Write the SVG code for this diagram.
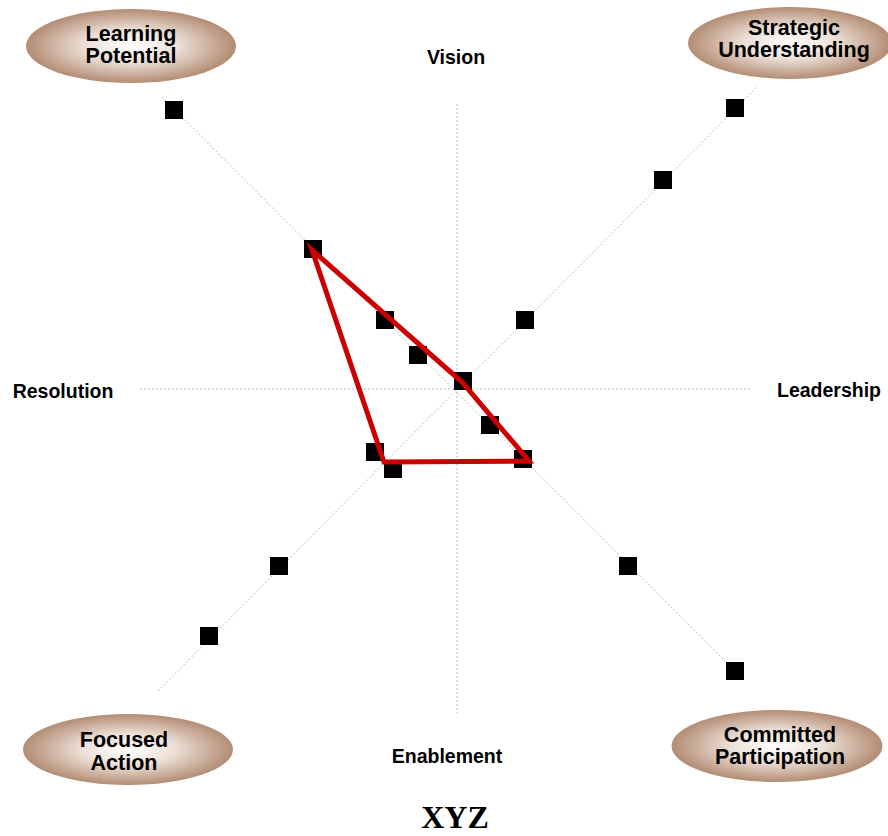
<svg xmlns="http://www.w3.org/2000/svg" width="888" height="836" viewBox="0 0 888 836">
<defs>
<radialGradient id="eg" cx="50%" cy="50%" r="50%">
<stop offset="0%" stop-color="#ffffff"/>
<stop offset="45%" stop-color="#ebdfd6"/>
<stop offset="100%" stop-color="#b38c73"/>
</radialGradient>
</defs>
<style>
.axis{stroke:#bdbdbd;stroke-width:1;stroke-dasharray:2,2;fill:none}
.pt{fill:#000}
.ell{fill:url(#eg)}
.et{font-family:"Liberation Sans",Arial,sans-serif;font-weight:bold;font-size:21.5px;fill:#000;text-anchor:middle}
.lab{font-family:"Liberation Sans",Arial,sans-serif;font-weight:bold;font-size:19.5px;fill:#000;text-anchor:middle}
.title{font-family:"Liberation Serif","Times New Roman",serif;font-weight:bold;font-size:32px;fill:#000;text-anchor:middle}
.poly{fill:none;stroke:#cc0000;stroke-width:5;stroke-linejoin:miter}
</style>
<rect width="888" height="836" fill="#fff"/>
<g id="connectors">
<line class="axis" x1="457" y1="104" x2="457" y2="713"/>
<line class="axis" x1="140" y1="389" x2="750" y2="389"/>
<line class="axis" x1="158" y1="691" x2="758" y2="86"/>
<line class="axis" x1="162" y1="97" x2="740" y2="676"/>
</g>
<g id="points">
<rect class="pt" x="165" y="101" width="18" height="18"/>
<rect class="pt" x="304" y="240" width="18" height="18"/>
<rect class="pt" x="376" y="311" width="18" height="18"/>
<rect class="pt" x="409" y="346" width="18" height="18"/>
<rect class="pt" x="454" y="372" width="18" height="18"/>
<rect class="pt" x="481" y="416" width="18" height="18"/>
<rect class="pt" x="514" y="450" width="18" height="18"/>
<rect class="pt" x="619" y="557" width="18" height="18"/>
<rect class="pt" x="726" y="662" width="18" height="18"/>
<rect class="pt" x="726" y="99" width="18" height="18"/>
<rect class="pt" x="654" y="171" width="18" height="18"/>
<rect class="pt" x="516" y="311" width="18" height="18"/>
<rect class="pt" x="366" y="443" width="18" height="18"/>
<rect class="pt" x="384" y="460" width="18" height="18"/>
<rect class="pt" x="270" y="557" width="18" height="18"/>
<rect class="pt" x="200" y="627" width="18" height="18"/>
</g>
<g id="profile">
<polygon class="poly" points="312,250 462,382 529,461 384,462"/>
</g>
<g id="learning-potential">
<ellipse class="ell" cx="131" cy="46" rx="105" ry="37"/>
<text class="et" x="131" y="41">Learning</text>
<text class="et" x="131" y="63">Potential</text>
</g>
<g id="strategic-understanding">
<ellipse class="ell" cx="790" cy="43" rx="102" ry="36"/>
<text class="et" x="794" y="35">Strategic</text>
<text class="et" x="794" y="57">Understanding</text>
</g>
<g id="focused-action">
<ellipse class="ell" cx="128" cy="749.5" rx="105" ry="35.5"/>
<text class="et" x="124" y="747">Focused</text>
<text class="et" x="124" y="770">Action</text>
</g>
<g id="committed-participation">
<ellipse class="ell" cx="777" cy="746" rx="105.5" ry="36"/>
<text class="et" x="780" y="742">Committed</text>
<text class="et" x="780" y="764">Participation</text>
</g>
<g id="axis-labels">
<text class="lab" x="456" y="64">Vision</text>
<text class="lab" x="63" y="398">Resolution</text>
<text class="lab" x="829" y="397">Leadership</text>
<text class="lab" x="447" y="763">Enablement</text>
</g>
<g id="title">
<text class="title" x="455" y="828">XYZ</text>
</g>
</svg>
